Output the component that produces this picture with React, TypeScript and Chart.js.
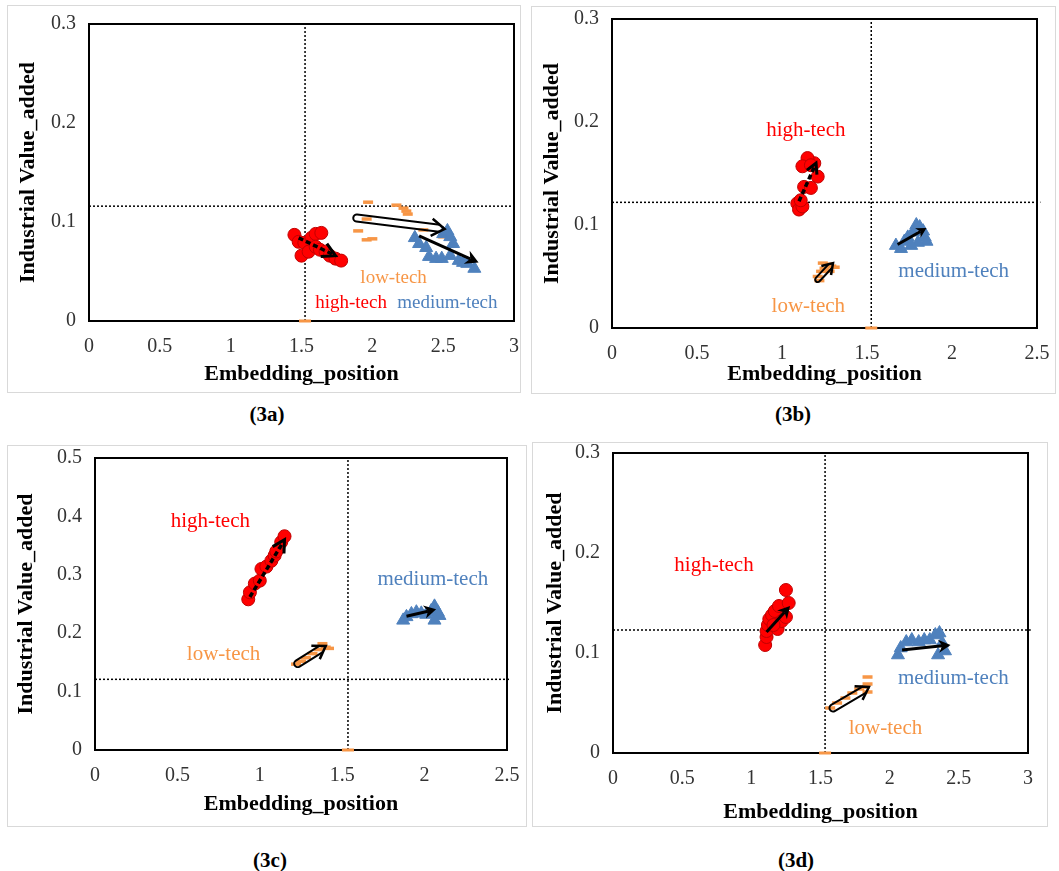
import React, { useEffect, useRef } from 'react';
import { Chart, registerables } from 'chart.js';

Chart.register(...registerables);

type P = [number, number];

const xTitle = 'Embedding_position';
const yTitle = 'Industrial Value_added';
const seriesNames = ['high-tech', 'low-tech', 'medium-tech'];
const panelNames = ['(3a)', '(3b)', '(3c)', '(3d)'];

// ---------- (3a) ----------
const highA: P[] = [[1.45, 0.087], [1.48, 0.080], [1.50, 0.066], [1.52, 0.079], [1.55, 0.070], [1.57, 0.084], [1.60, 0.088], [1.64, 0.089], [1.60, 0.075], [1.63, 0.072], [1.67, 0.070], [1.70, 0.066], [1.74, 0.063], [1.78, 0.061]];
const lowA: P[] = [[1.90, 0.091], [1.96, 0.082], [2.00, 0.083], [1.97, 0.120], [2.17, 0.117], [2.22, 0.114], [2.24, 0.111], [2.25, 0.108], [1.96, 0.103], [2.36, 0.092], [2.50, 0.085]];
const mediumA: P[] = [[2.30, 0.084], [2.33, 0.078], [2.38, 0.074], [2.40, 0.065], [2.45, 0.063], [2.49, 0.063], [2.50, 0.088], [2.53, 0.091], [2.55, 0.085], [2.57, 0.078], [2.55, 0.066], [2.61, 0.061], [2.64, 0.059], [2.67, 0.058], [2.72, 0.053]];
const arrowsA: [P, P][] = [[[1.48, 0.084], [1.74, 0.066]], [[1.89, 0.104], [2.51, 0.093]], [[2.33, 0.086], [2.75, 0.059]]];
const refA: P = [1.525, 0.116];

// ---------- (3b) ----------
const highB: P[] = [[1.09, 0.121], [1.10, 0.115], [1.12, 0.118], [1.11, 0.124], [1.13, 0.137], [1.17, 0.136], [1.21, 0.147], [1.19, 0.160], [1.15, 0.165], [1.12, 0.157], [1.17, 0.158]];
const lowB: P[] = [[1.21, 0.050], [1.22, 0.046], [1.23, 0.055], [1.25, 0.058], [1.27, 0.062], [1.24, 0.063], [1.29, 0.060], [1.31, 0.059], [1.28, 0.055]];
const mediumB: P[] = [[1.67, 0.080], [1.70, 0.077], [1.72, 0.084], [1.74, 0.088], [1.77, 0.093], [1.79, 0.100], [1.81, 0.098], [1.83, 0.094], [1.84, 0.088], [1.85, 0.084], [1.80, 0.083], [1.76, 0.080]];
const arrowsB: [P, P][] = [[[1.10, 0.123], [1.20, 0.160]], [[1.21, 0.047], [1.30, 0.063]], [[1.68, 0.081], [1.85, 0.097]]];
const refB: P = [1.525, 0.122];

// ---------- (3c) ----------
const highC: P[] = [[0.93, 0.258], [0.94, 0.270], [0.97, 0.285], [1.00, 0.290], [1.01, 0.310], [1.04, 0.314], [1.07, 0.324], [1.09, 0.333], [1.10, 0.340], [1.13, 0.356], [1.15, 0.366]];
const lowC: P[] = [[1.22, 0.147], [1.25, 0.152], [1.28, 0.158], [1.32, 0.165], [1.36, 0.172], [1.38, 0.182], [1.40, 0.176], [1.42, 0.174]];
const mediumC: P[] = [[1.87, 0.222], [1.89, 0.228], [1.92, 0.233], [1.95, 0.236], [1.98, 0.234], [2.01, 0.232], [2.04, 0.238], [2.06, 0.246], [2.08, 0.236], [2.09, 0.230], [2.06, 0.222]];
const arrowsC: [P, P][] = [[[0.94, 0.262], [1.15, 0.360]], [[1.23, 0.148], [1.40, 0.178]], [[1.89, 0.229], [2.07, 0.241]]];
const refC: P = [1.535, 0.121];

// ---------- (3d) ----------
const highD: P[] = [[1.10, 0.108], [1.11, 0.116], [1.11, 0.122], [1.12, 0.128], [1.13, 0.134], [1.15, 0.138], [1.17, 0.142], [1.20, 0.147], [1.19, 0.124], [1.22, 0.132], [1.25, 0.136], [1.27, 0.150], [1.25, 0.163], [1.16, 0.128]];
const lowD: P[] = [[1.57, 0.045], [1.62, 0.050], [1.68, 0.055], [1.73, 0.060], [1.78, 0.064], [1.82, 0.066], [1.84, 0.061], [1.84, 0.069], [1.84, 0.076]];
const mediumD: P[] = [[2.06, 0.098], [2.08, 0.105], [2.12, 0.111], [2.16, 0.113], [2.21, 0.111], [2.25, 0.113], [2.29, 0.113], [2.33, 0.118], [2.36, 0.120], [2.38, 0.110], [2.40, 0.102], [2.35, 0.098]];
const arrowsD: [P, P][] = [[[1.11, 0.121], [1.28, 0.147]], [[1.59, 0.045], [1.85, 0.066]], [[2.09, 0.103], [2.44, 0.108]]];
const refD: P = [1.533, 0.123];

// label anchor points (data coordinates) for high, low, medium
const labelsA: P[] = [[1.85, 0.018], [2.15, 0.043], [2.53, 0.018]];
const labelsB: P[] = [[1.14, 0.192], [1.155, 0.021], [2.01, 0.055]];
const labelsC: P[] = [[0.70, 0.391], [0.78, 0.163], [2.05, 0.292]];
const labelsD: P[] = [[0.73, 0.188], [1.97, 0.025], [2.46, 0.075]];

const COLORS = { high: '#FF0000', highBorder: '#C00000', low: '#F79646', medium: '#4F81BD' };
const SERIF = "'Liberation Serif', 'Times New Roman', serif";

type Panel = {
  name: string; xMax: number; yMax: number;
  high: P[]; low: P[]; medium: P[]; ref: P;
  arrows: [P, P][]; kinds: string[]; head: number;
  labels: P[]; labelSize: number;
  box: { left: number; top: number; width: number; height: number };
  pad: { left: number; top: number; right: number; bottom: number };
  yW: number; xH: number;
  frame: { left: number; top: number; width: number; height: number };
  caption: { x: number; y: number };
};

const panels: Panel[] = [
  {
    name: panelNames[0], xMax: 3, yMax: 0.3, high: highA, low: lowA, medium: mediumA, ref: refA,
    arrows: arrowsA, kinds: ['dashed', 'hollow', 'solid'], head: 13, labels: labelsA, labelSize: 19,
    box: { left: 0, top: -2, width: 550, height: 402 }, pad: { left: 15, top: 26, right: 36, bottom: 12 }, yW: 74, xH: 67,
    frame: { left: 7, top: 5, width: 514, height: 388 }, caption: { x: 267, y: 414 },
  },
  {
    name: panelNames[1], xMax: 2.5, yMax: 0.3, high: highB, low: lowB, medium: mediumB, ref: refB,
    arrows: arrowsB, kinds: ['dashed', 'hollow', 'solid'], head: 10, labels: labelsB, labelSize: 21,
    box: { left: 530, top: -7, width: 549, height: 407 }, pad: { left: 9, top: 26, right: 42, bottom: 12 }, yW: 73, xH: 60,
    frame: { left: 531, top: 6, width: 525, height: 388 }, caption: { x: 793, y: 414 },
  },
  {
    name: panelNames[2], xMax: 2.5, yMax: 0.5, high: highC, low: lowC, medium: mediumC, ref: refC,
    arrows: arrowsC, kinds: ['dashed', 'hollow', 'solid'], head: 12, labels: labelsC, labelSize: 21,
    box: { left: 0, top: 430, width: 550, height: 400 }, pad: { left: 13, top: 28, right: 43, bottom: 12 }, yW: 82, xH: 68,
    frame: { left: 7, top: 445, width: 520, height: 382 }, caption: { x: 270, y: 860 },
  },
  {
    name: panelNames[3], xMax: 3, yMax: 0.3, high: highD, low: lowD, medium: mediumD, ref: refD,
    arrows: arrowsD, kinds: ['solid', 'hollow', 'solid'], head: 12, labels: labelsD, labelSize: 21,
    box: { left: 529, top: 427, width: 550, height: 403 }, pad: { left: 13, top: 26, right: 51, bottom: 4 }, yW: 71, xH: 73,
    frame: { left: 532, top: 442, width: 516, height: 385 }, caption: { x: 796, y: 860 },
  },
];

const toXY = (a: P[]) => a.map(([x, y]) => ({ x, y }));
const fmt = (v: number) => String(parseFloat(Number(v).toFixed(2)));

function drawArrow(ctx: CanvasRenderingContext2D, x1: number, y1: number, x2: number, y2: number, kind: string, head: number) {
  const dx = x2 - x1, dy = y2 - y1;
  const len = Math.hypot(dx, dy) || 1;
  const ux = dx / len, uy = dy / len;
  const nx = -uy, ny = ux;
  const hw = head * 0.55;
  ctx.save();
  ctx.strokeStyle = '#000';
  ctx.fillStyle = '#000';
  ctx.lineJoin = 'miter';
  if (kind === 'solid') {
    ctx.lineWidth = 3;
    ctx.beginPath();
    ctx.moveTo(x1, y1);
    ctx.lineTo(x2 - ux * head * 0.7, y2 - uy * head * 0.7);
    ctx.stroke();
    ctx.beginPath();
    ctx.moveTo(x2, y2);
    ctx.lineTo(x2 - ux * head + nx * hw, y2 - uy * head + ny * hw);
    ctx.lineTo(x2 - ux * head * 0.7, y2 - uy * head * 0.7);
    ctx.lineTo(x2 - ux * head - nx * hw, y2 - uy * head - ny * hw);
    ctx.closePath();
    ctx.fill();
  } else if (kind === 'dashed') {
    ctx.lineWidth = 3.5;
    ctx.setLineDash([5, 3]);
    ctx.beginPath();
    ctx.moveTo(x1, y1);
    ctx.lineTo(x2 - ux * 2, y2 - uy * 2);
    ctx.stroke();
    ctx.setLineDash([]);
    ctx.lineWidth = 3;
    ctx.beginPath();
    ctx.moveTo(x2 - ux * head + nx * hw, y2 - uy * head + ny * hw);
    ctx.lineTo(x2, y2);
    ctx.lineTo(x2 - ux * head - nx * hw, y2 - uy * head - ny * hw);
    ctx.stroke();
  } else {
    const r = head > 11 ? 3.5 : 2.5;
    const a = Math.atan2(uy, ux);
    const ex = x2 - ux * head * 0.4, ey = y2 - uy * head * 0.4;
    ctx.lineWidth = 2;
    ctx.beginPath();
    ctx.moveTo(ex + nx * r, ey + ny * r);
    ctx.lineTo(x1 + nx * r, y1 + ny * r);
    ctx.arc(x1, y1, r, a + Math.PI / 2, a + (3 * Math.PI) / 2, false);
    ctx.lineTo(ex - nx * r, ey - ny * r);
    ctx.stroke();
    ctx.lineWidth = 2.5;
    ctx.beginPath();
    ctx.moveTo(x2 - ux * head + nx * hw * 1.2, y2 - uy * head + ny * hw * 1.2);
    ctx.lineTo(x2, y2);
    ctx.lineTo(x2 - ux * head - nx * hw * 1.2, y2 - uy * head - ny * hw * 1.2);
    ctx.stroke();
  }
  ctx.restore();
}

function PanelChart({ p }: { p: Panel }) {
  const ref = useRef<HTMLCanvasElement | null>(null);
  useEffect(() => {
    if (!ref.current) return;
    const boxPlugin = {
      id: 'plotBox',
      beforeDatasetsDraw(chart: any) {
        const { ctx, chartArea: a } = chart;
        ctx.save();
        ctx.strokeStyle = '#000';
        ctx.lineWidth = 2;
        ctx.strokeRect(a.left, a.top, a.right - a.left, a.bottom - a.top);
        ctx.restore();
      },
      afterDatasetsDraw(chart: any) {
        const { ctx } = chart;
        const xs = chart.scales.x, ys = chart.scales.y;
        p.arrows.forEach(([f, t], i) => {
          drawArrow(ctx, xs.getPixelForValue(f[0]), ys.getPixelForValue(f[1]), xs.getPixelForValue(t[0]), ys.getPixelForValue(t[1]), p.kinds[i], p.head);
        });
        const cols = [COLORS.high, COLORS.low, COLORS.medium];
        ctx.save();
        ctx.font = `${p.labelSize}px ${SERIF}`;
        ctx.textAlign = 'center';
        ctx.textBaseline = 'middle';
        p.labels.forEach(([x, y], i) => {
          ctx.fillStyle = cols[i];
          ctx.fillText(seriesNames[i], xs.getPixelForValue(x), ys.getPixelForValue(y));
        });
        ctx.restore();
      },
    };
    const tickFont = { family: SERIF, size: 20 };
    const titleFont = { family: SERIF, size: 22, weight: 'bold' as const };
    const chart = new Chart(ref.current, {
      type: 'scatter',
      data: {
        datasets: [
          {
            label: seriesNames[0], data: toXY(p.high), pointStyle: 'circle', pointRadius: 6.5,
            pointBackgroundColor: COLORS.high, pointBorderColor: COLORS.highBorder, pointBorderWidth: 1, order: 1,
          } as any,
          {
            label: seriesNames[2], data: toXY(p.medium), pointStyle: 'triangle', pointRadius: 7.5,
            pointBackgroundColor: COLORS.medium, pointBorderColor: COLORS.medium, pointBorderWidth: 1, order: 2,
          },
          {
            label: seriesNames[1], data: toXY(p.low), pointStyle: 'line', pointRadius: 5,
            pointBackgroundColor: COLORS.low, pointBorderColor: COLORS.low, pointBorderWidth: 3.5, order: 3,
          },
          {
            label: 'mean', data: [{ x: p.ref[0], y: 0 }], pointStyle: 'line', pointRadius: 6,
            pointBorderColor: COLORS.low, pointBorderWidth: 3, clip: false, order: 4,
          },
          {
            type: 'line', label: 'refV', data: [{ x: p.ref[0], y: 0 }, { x: p.ref[0], y: p.yMax }],
            borderColor: '#000', borderWidth: 1.5, borderDash: [2, 2], pointRadius: 0, showLine: true, fill: false, order: 10,
          },
          {
            type: 'line', label: 'refH', data: [{ x: 0, y: p.ref[1] }, { x: p.xMax + 0.02, y: p.ref[1] }],
            borderColor: '#000', borderWidth: 1.5, borderDash: [2, 2], pointRadius: 0, showLine: true, fill: false, clip: false, order: 10,
          },
        ] as any,
      },
      options: {
        animation: false,
        responsive: false,
        maintainAspectRatio: false,
        layout: { padding: p.pad },
        plugins: { legend: { display: false }, tooltip: { enabled: false } },
        scales: {
          x: {
            type: 'linear', min: 0, max: p.xMax,
            ticks: { stepSize: 0.5, padding: 14, color: '#333', font: tickFont, autoSkip: false, maxRotation: 0, callback: (v: any) => fmt(v) },
            grid: { display: false, drawTicks: false },
            border: { display: false },
            title: { display: true, text: xTitle, color: '#000', font: titleFont, padding: 0 },
            afterFit: (s: any) => { s.height = p.xH; },
          },
          y: {
            type: 'linear', min: 0, max: p.yMax,
            ticks: { stepSize: 0.1, padding: 13, color: '#333', font: tickFont, autoSkip: false, callback: (v: any) => fmt(v) },
            grid: { display: false, drawTicks: false },
            border: { display: false },
            title: { display: true, text: yTitle, color: '#000', font: titleFont, padding: 0 },
            afterFit: (s: any) => { s.width = p.yW; },
          },
        },
      } as any,
      plugins: [boxPlugin],
    });
    return () => chart.destroy();
  }, [p]);
  return (
    <canvas
      ref={ref}
      width={p.box.width}
      height={p.box.height}
      style={{ position: 'absolute', left: p.box.left, top: p.box.top, width: p.box.width, height: p.box.height, zIndex: 1 }}
    />
  );
}

export default function App() {
  return (
    <div style={{ position: 'absolute', left: 0, top: 0, width: 1059, height: 871, background: '#fff', overflow: 'hidden' }}>
      {panels.map((p) => (
        <div
          key={p.name + 'f'}
          style={{
            position: 'absolute', left: p.frame.left, top: p.frame.top, width: p.frame.width, height: p.frame.height,
            border: '1px solid #d9d9d9', boxSizing: 'border-box', zIndex: 0,
          }}
        />
      ))}
      {panels.map((p) => (
        <PanelChart key={p.name} p={p} />
      ))}
      {panels.map((p) => (
        <div
          key={p.name + 'c'}
          style={{
            position: 'absolute', left: p.caption.x - 40, top: p.caption.y - 13, width: 80, height: 26,
            lineHeight: '26px', textAlign: 'center', fontFamily: SERIF, fontWeight: 'bold', fontSize: 21, color: '#000',
          }}
        >
          {p.name}
        </div>
      ))}
    </div>
  );
}
